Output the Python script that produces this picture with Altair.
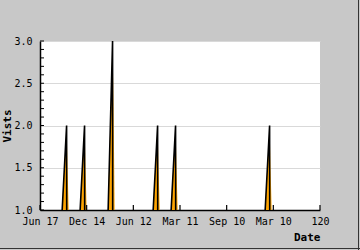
import altair as alt
import pandas as pd

# Data
peak_x = [11.4, 19.1, 31.1, 50.4, 58.1, 98.4]
peak_v = [2, 2, 3, 2, 2, 2]
x_tick_values = [0, 20, 40, 60, 80, 100, 120]
x_tick_labels = ["Jun 17", "Dec 14", "Jun 12", "Mar 11", "Sep 10", "Mar 10", "120"]
y_major = [1.0, 1.5, 2.0, 2.5, 3.0]
y_minor = [1.1, 1.2, 1.3, 1.4, 1.6, 1.7, 1.8, 1.9, 2.1, 2.2, 2.3, 2.4, 2.6, 2.7, 2.8, 2.9]

W, H = 280, 169
FONT = "DejaVu Sans Mono"

area_rows, line_rows = [], []
for i, (p, v) in enumerate(zip(peak_x, peak_v)):
    area_rows += [
        {"id": i, "x": p - 2.0, "y": 1.0, "base": 1.0},
        {"id": i, "x": p, "y": v, "base": 1.0},
        {"id": i, "x": p + 0.4, "y": v * 0.75, "base": 1.0},
        {"id": i, "x": p + 0.9, "y": 1.0, "base": 1.0},
    ]
    line_rows += [
        {"id": i, "o": 0, "x": p - 1.9, "y": 1.0},
        {"id": i, "o": 1, "x": p, "y": v},
        {"id": i, "o": 2, "x": p + 0.05, "y": 1.0},
    ]
area_df = pd.DataFrame(area_rows)
line_df = pd.DataFrame(line_rows)

label_map = "{" + ",".join(f"'{v}':'{l}'" for v, l in zip(x_tick_values, x_tick_labels)) + "}"

xscale = alt.Scale(domain=[0, 120], nice=False)
yscale = alt.Scale(domain=[1, 3], nice=False)

xaxis = alt.Axis(
    values=x_tick_values,
    labelExpr=f"{label_map}[datum.value + '']",
    title="Date",
    titleAnchor="end",
    titleAlign="right",
    titleFont=FONT, titleFontSize=11, titleFontWeight="bold", titleColor="black",
    titlePadding=5,
    labelFont=FONT, labelFontSize=10, labelColor="black",
    labelPadding=6, labelFlush=False, labelOverlap=False,
    ticks=False, grid=False, domainColor="black", domainWidth=1.5,
)
yaxis = alt.Axis(
    values=y_major, format=".1f",
    title="Vists",
    titleFont=FONT, titleFontSize=11, titleFontWeight="bold", titleColor="black",
    titlePadding=1,
    labelFont=FONT, labelFontSize=10, labelColor="black",
    labelPadding=8,
    ticks=False, grid=True, gridColor="#d9d9d9", gridWidth=1,
    domainColor="black", domainWidth=1.5,
)

area = alt.Chart(area_df).mark_area(color="#ffa500", opacity=1).encode(
    x=alt.X("x:Q", scale=xscale, axis=xaxis),
    y=alt.Y("y:Q", scale=yscale, axis=yaxis),
    y2="base:Q",
    detail="id:N",
)
line = alt.Chart(line_df).mark_line(color="black", strokeWidth=1.6).encode(
    x=alt.X("x:Q", scale=xscale),
    y=alt.Y("y:Q", scale=yscale),
    detail="id:N",
    order="o:Q",
)
yminor = alt.Chart(pd.DataFrame({"v": y_minor + y_major})).mark_rule(color="black").encode(
    y=alt.Y("v:Q", scale=yscale), x=alt.value(0), x2=alt.value(4),
)
xticks = alt.Chart(pd.DataFrame({"v": x_tick_values})).mark_rule(color="black", strokeWidth=1.2).encode(
    x=alt.X("v:Q", scale=xscale), y=alt.value(H), y2=alt.value(H - 5),
)
frame_r = alt.Chart(pd.DataFrame({"a": [0]})).mark_rule(color="#333333").encode(
    x=alt.value(W + 38.5), y=alt.value(-41), y2=alt.value(H + 40),
)
frame_b = alt.Chart(pd.DataFrame({"a": [0]})).mark_rule(color="#333333").encode(
    x=alt.value(-40), x2=alt.value(W + 40), y=alt.value(H + 38.5),
)

chart = alt.layer(area, line, yminor, xticks, frame_r, frame_b).properties(
    width=W, height=H,
    background="#c8c8c8",
    padding={"left": 40, "top": 41, "right": 40, "bottom": 40},
    autosize=alt.AutoSizeParams(type="none"),
).configure_view(fill="white", stroke=None)

chart.save("out.html", embed_options={"renderer": "svg", "actions": False})
